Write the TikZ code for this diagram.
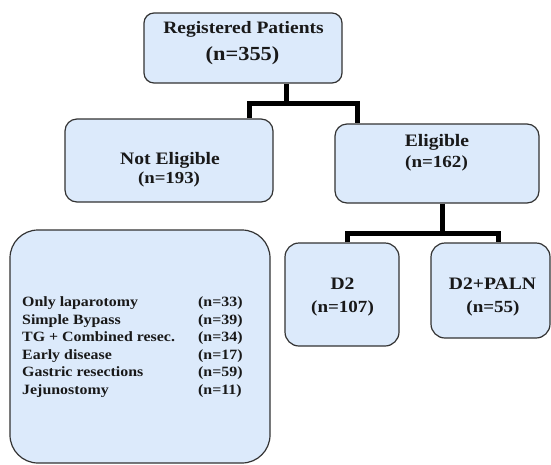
\documentclass[tikz,border=0pt]{standalone}
\usepackage{fontspec}
\setmainfont{Liberation Serif}[FakeStretch=1.12]
\begin{document}
\begin{tikzpicture}[x=1pt,y=-1pt,
  box/.style={draw=black!80, line width=1.2pt, fill=boxfill, rounded corners=#1, inner sep=0pt},
  box/.default=12pt,
  conn/.style={line width=5pt, black, line join=miter},
  lab/.style={anchor=base, inner sep=0pt, text=black!90, font=\bfseries\fontsize{17.5}{20}\selectfont},
  item/.style={anchor=base west, inner sep=0pt, text=black!90, font=\bfseries\fontsize{14.2}{16}\selectfont}]
\definecolor{boxfill}{RGB}{220,234,251}
\useasboundingbox (0,0) rectangle (551,464);
% boxes
\node[box=10pt, minimum width=198pt, minimum height=70pt] (reg) at (243,48) {};
\node[box, minimum width=208pt, minimum height=83pt] (notel) at (169,160.5) {};
\node[box, minimum width=204pt, minimum height=79pt] (elig) at (437,163.5) {};
\node[box=14pt, minimum width=114pt, minimum height=103pt] (d2) at (342,294.5) {};
\node[box=14pt, minimum width=119pt, minimum height=95pt] (paln) at (490.5,290.5) {};
\node[box=28pt, minimum width=260pt, minimum height=233pt] (list) at (140,346.5) {};
% connectors
\coordinate (j1) at (286,103);
\coordinate (ja) at (249,103);
\coordinate (jb) at (357,103);
\draw[conn] (j1 |- reg.south) -- (j1);
\draw[conn] (ja |- notel.north) -- (ja) -- (jb) -- (jb |- elig.north);
\coordinate (j2) at (442,233);
\coordinate (jc) at (347,233);
\coordinate (jd) at (498.5,233);
\draw[conn] (j2 |- elig.south) -- (j2);
\draw[conn] (jc |- d2.north) -- (jc) -- (jd) -- (jd |- paln.north);
% labels
\node[lab, font=\bfseries\fontsize{17.4}{20}\selectfont] (regt) at (243.5,33.5) {Registered Patients};
\node[lab, font=\bfseries\fontsize{20}{22}\selectfont] (regn) at (242.5,60.5) {(n=355)};
\node[lab] (notelt) at (170,164) {Not Eligible};
\node[lab, font=\bfseries\fontsize{16.8}{20}\selectfont] (noteln) at (169,183.5) {(n=193)};
\node[lab] (eligt) at (437,146) {Eligible};
\node[lab, font=\bfseries\fontsize{17}{20}\selectfont] (eligtn) at (436.5,167.5) {(n=162)};
\node[lab] (d2t) at (342.5,289) {D2};
\node[lab, font=\bfseries\fontsize{17}{20}\selectfont] (d2n) at (342.5,312.5) {(n=107)};
\node[lab] (palnt) at (492.5,289) {D2+PALN};
\node[lab, font=\bfseries\fontsize{17}{20}\selectfont] (palnn) at (493,312.5) {(n=55)};
% list
\node[item] (l1) at (22,306.5) {Only laparotomy};
\node[item] (l2) at (22,324) {Simple Bypass};
\node[item] (l3) at (22,341.5) {TG + Combined resec.};
\node[item] (l4) at (22,359) {Early disease};
\node[item] (l5) at (22,376.5) {Gastric resections};
\node[item] (l6) at (22,394) {Jejunostomy};
\node[item] (r1) at (198,306.5) {(n=33)};
\node[item] (r2) at (198,324) {(n=39)};
\node[item] (r3) at (198,341.5) {(n=34)};
\node[item] (r4) at (198,359) {(n=17)};
\node[item] (r5) at (198,376.5) {(n=59)};
\node[item] (r6) at (198,394) {(n=11)};
\end{tikzpicture}
\end{document}
